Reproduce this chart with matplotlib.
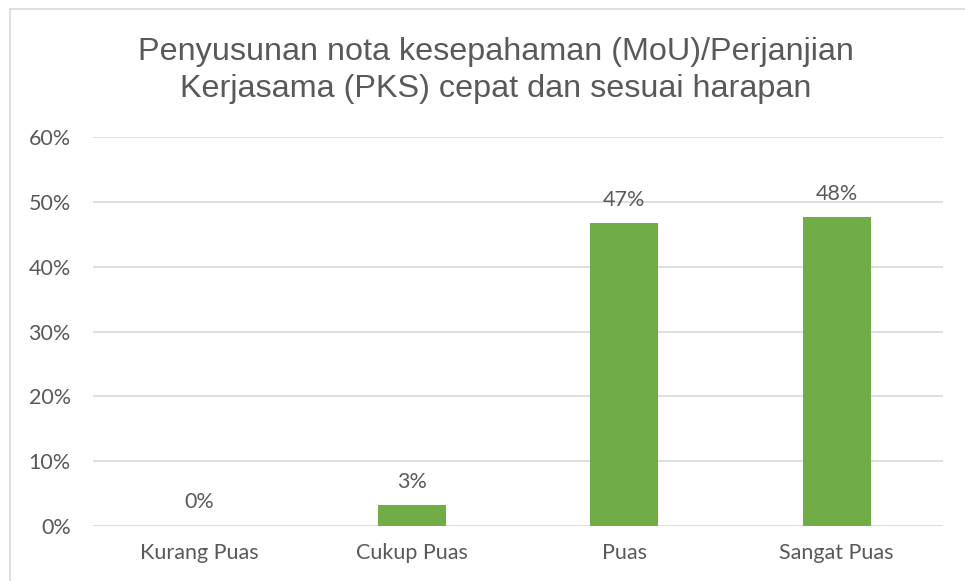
import matplotlib
matplotlib.use("Agg")
import matplotlib.pyplot as plt
from matplotlib.lines import Line2D
from matplotlib.ticker import PercentFormatter

categories = ["Kurang Puas", "Cukup Puas", "Puas", "Sangat Puas"]
values = [0.0, 0.032, 0.467, 0.476]
labels = ["0%", "3%", "47%", "48%"]
title = "Penyusunan nota kesepahaman (MoU)/Perjanjian\nKerjasama (PKS) cepat dan sesuai harapan"

green = "#70AD47"
grey_text = "#595959"
grid_col = "#D9D9D9"

fig = plt.figure(figsize=(9.65, 5.81), dpi=100)
ax = fig.add_axes([0.0964, 0.0947, 0.8806, 0.6693])

x = range(len(categories))
ax.bar(x, values, width=0.32, color=green, zorder=3)
for xi, v, lab in zip(x, values, labels):
    ax.annotate(lab, (xi, v), xytext=(0, 17), textcoords="offset points",
                ha="center", va="center", fontsize=15.5, family="Lato",
                color=grey_text)

ax.set_xlim(-0.5, 3.5)
ax.set_ylim(0, 0.6)
ax.set_yticks([i / 10 for i in range(7)])
ax.yaxis.set_major_formatter(PercentFormatter(1.0, decimals=0))
ax.set_xticks(list(x))
ax.set_xticklabels(categories)
for lbl in ax.get_xticklabels() + ax.get_yticklabels():
    lbl.set_family("Lato")
    lbl.set_fontsize(15.5)
    lbl.set_color(grey_text)
ax.tick_params(length=0)
ax.tick_params(axis="x", pad=12)
ax.tick_params(axis="y", pad=16)
ax.grid(axis="y", color=grid_col, linewidth=1.2, zorder=0)
for s in ax.spines.values():
    s.set_visible(False)

fig.text(0.514, 0.878, title, ha="center", va="center", fontsize=23.3,
         family="Liberation Sans", color=grey_text, linespacing=1.3)

# frame edges of the original chart box
fig.add_artist(Line2D([0.01, 1.0], [1 - 8.5 / 581] * 2, color=grid_col, lw=1.2))
fig.add_artist(Line2D([10 / 965] * 2, [0.0, 1 - 8.5 / 581], color=grid_col, lw=1.2))

fig.savefig("out.png", dpi=100)
